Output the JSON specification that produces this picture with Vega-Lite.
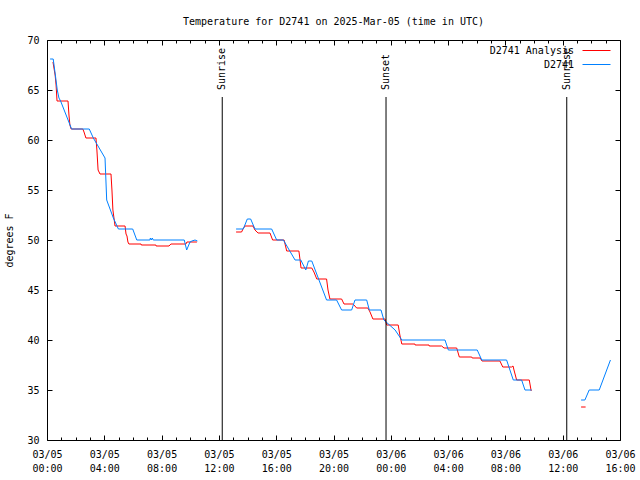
{
  "$schema": "https://vega.github.io/schema/vega-lite/v6.json",
  "width": 573,
  "height": 400,
  "autosize": {"type": "none"},
  "padding": {"left": 47, "top": 40, "right": 20, "bottom": 40},
  "background": "white",
  "title": {
    "text": "Temperature for D2741 on 2025-Mar-05 (time in UTC)",
    "font": "DejaVu Sans Mono", "fontSize": 10, "fontWeight": "normal", "color": "black",
    "anchor": "middle", "offset": 0, "baseline": "alphabetic", "dx": 0
  },
  "config": {
    "view": {"stroke": "black", "strokeWidth": 1},
    "axis": {
      "domain": false, "grid": false, "tickColor": "black", "tickWidth": 1,
      "labelColor": "black", "labelFont": "DejaVu Sans Mono", "labelFontSize": 10,
      "titleFont": "DejaVu Sans Mono", "titleFontSize": 10, "titleFontWeight": "normal", "titleColor": "black"
    }
  },
  "datasets": {
    "temps": [
      {"series": "D2741 Analysis", "seg": 1, "t": "2025-03-05T00:25:00Z", "temp": 67.8},
      {"series": "D2741 Analysis", "seg": 1, "t": "2025-03-05T00:34:00Z", "temp": 66.5},
      {"series": "D2741 Analysis", "seg": 1, "t": "2025-03-05T00:38:00Z", "temp": 65.5},
      {"series": "D2741 Analysis", "seg": 1, "t": "2025-03-05T00:42:00Z", "temp": 63.9},
      {"series": "D2741 Analysis", "seg": 1, "t": "2025-03-05T01:28:00Z", "temp": 63.9},
      {"series": "D2741 Analysis", "seg": 1, "t": "2025-03-05T01:32:00Z", "temp": 62.5},
      {"series": "D2741 Analysis", "seg": 1, "t": "2025-03-05T01:36:00Z", "temp": 61.5},
      {"series": "D2741 Analysis", "seg": 1, "t": "2025-03-05T01:41:00Z", "temp": 61.1},
      {"series": "D2741 Analysis", "seg": 1, "t": "2025-03-05T02:30:00Z", "temp": 61.1},
      {"series": "D2741 Analysis", "seg": 1, "t": "2025-03-05T02:35:00Z", "temp": 60.8},
      {"series": "D2741 Analysis", "seg": 1, "t": "2025-03-05T02:43:00Z", "temp": 60.2},
      {"series": "D2741 Analysis", "seg": 1, "t": "2025-03-05T03:25:00Z", "temp": 60.2},
      {"series": "D2741 Analysis", "seg": 1, "t": "2025-03-05T03:29:00Z", "temp": 59.0},
      {"series": "D2741 Analysis", "seg": 1, "t": "2025-03-05T03:34:00Z", "temp": 57.0},
      {"series": "D2741 Analysis", "seg": 1, "t": "2025-03-05T03:42:00Z", "temp": 56.6},
      {"series": "D2741 Analysis", "seg": 1, "t": "2025-03-05T04:28:00Z", "temp": 56.6},
      {"series": "D2741 Analysis", "seg": 1, "t": "2025-03-05T04:32:00Z", "temp": 55.0},
      {"series": "D2741 Analysis", "seg": 1, "t": "2025-03-05T04:36:00Z", "temp": 53.0},
      {"series": "D2741 Analysis", "seg": 1, "t": "2025-03-05T04:45:00Z", "temp": 51.4},
      {"series": "D2741 Analysis", "seg": 1, "t": "2025-03-05T05:27:00Z", "temp": 51.4},
      {"series": "D2741 Analysis", "seg": 1, "t": "2025-03-05T05:31:00Z", "temp": 50.6},
      {"series": "D2741 Analysis", "seg": 1, "t": "2025-03-05T05:35:00Z", "temp": 50.4},
      {"series": "D2741 Analysis", "seg": 1, "t": "2025-03-05T05:39:00Z", "temp": 49.8},
      {"series": "D2741 Analysis", "seg": 1, "t": "2025-03-05T05:43:00Z", "temp": 49.6},
      {"series": "D2741 Analysis", "seg": 1, "t": "2025-03-05T06:34:00Z", "temp": 49.6},
      {"series": "D2741 Analysis", "seg": 1, "t": "2025-03-05T06:35:00Z", "temp": 49.5},
      {"series": "D2741 Analysis", "seg": 1, "t": "2025-03-05T07:36:00Z", "temp": 49.5},
      {"series": "D2741 Analysis", "seg": 1, "t": "2025-03-05T07:37:00Z", "temp": 49.4},
      {"series": "D2741 Analysis", "seg": 1, "t": "2025-03-05T08:31:00Z", "temp": 49.4},
      {"series": "D2741 Analysis", "seg": 1, "t": "2025-03-05T08:39:00Z", "temp": 49.6},
      {"series": "D2741 Analysis", "seg": 1, "t": "2025-03-05T09:42:00Z", "temp": 49.6},
      {"series": "D2741 Analysis", "seg": 1, "t": "2025-03-05T09:46:00Z", "temp": 49.8},
      {"series": "D2741 Analysis", "seg": 1, "t": "2025-03-05T10:28:00Z", "temp": 49.8},
      {"series": "D2741 Analysis", "seg": 2, "t": "2025-03-05T13:12:00Z", "temp": 50.8},
      {"series": "D2741 Analysis", "seg": 2, "t": "2025-03-05T13:35:00Z", "temp": 50.8},
      {"series": "D2741 Analysis", "seg": 2, "t": "2025-03-05T13:41:00Z", "temp": 51.1},
      {"series": "D2741 Analysis", "seg": 2, "t": "2025-03-05T13:49:00Z", "temp": 51.4},
      {"series": "D2741 Analysis", "seg": 2, "t": "2025-03-05T14:23:00Z", "temp": 51.4},
      {"series": "D2741 Analysis", "seg": 2, "t": "2025-03-05T14:31:00Z", "temp": 51.0},
      {"series": "D2741 Analysis", "seg": 2, "t": "2025-03-05T14:44:00Z", "temp": 50.7},
      {"series": "D2741 Analysis", "seg": 2, "t": "2025-03-05T15:34:00Z", "temp": 50.7},
      {"series": "D2741 Analysis", "seg": 2, "t": "2025-03-05T15:45:00Z", "temp": 50.0},
      {"series": "D2741 Analysis", "seg": 2, "t": "2025-03-05T16:33:00Z", "temp": 50.0},
      {"series": "D2741 Analysis", "seg": 2, "t": "2025-03-05T16:44:00Z", "temp": 48.9},
      {"series": "D2741 Analysis", "seg": 2, "t": "2025-03-05T17:35:00Z", "temp": 48.9},
      {"series": "D2741 Analysis", "seg": 2, "t": "2025-03-05T17:40:00Z", "temp": 48.0},
      {"series": "D2741 Analysis", "seg": 2, "t": "2025-03-05T17:44:00Z", "temp": 47.2},
      {"series": "D2741 Analysis", "seg": 2, "t": "2025-03-05T18:29:00Z", "temp": 47.2},
      {"series": "D2741 Analysis", "seg": 2, "t": "2025-03-05T18:38:00Z", "temp": 46.8},
      {"series": "D2741 Analysis", "seg": 2, "t": "2025-03-05T18:50:00Z", "temp": 46.1},
      {"series": "D2741 Analysis", "seg": 2, "t": "2025-03-05T19:31:00Z", "temp": 46.1},
      {"series": "D2741 Analysis", "seg": 2, "t": "2025-03-05T19:37:00Z", "temp": 45.0},
      {"series": "D2741 Analysis", "seg": 2, "t": "2025-03-05T19:45:00Z", "temp": 44.1},
      {"series": "D2741 Analysis", "seg": 2, "t": "2025-03-05T20:34:00Z", "temp": 44.1},
      {"series": "D2741 Analysis", "seg": 2, "t": "2025-03-05T20:44:00Z", "temp": 43.6},
      {"series": "D2741 Analysis", "seg": 2, "t": "2025-03-05T21:22:00Z", "temp": 43.6},
      {"series": "D2741 Analysis", "seg": 2, "t": "2025-03-05T21:37:00Z", "temp": 43.2},
      {"series": "D2741 Analysis", "seg": 2, "t": "2025-03-05T22:24:00Z", "temp": 43.2},
      {"series": "D2741 Analysis", "seg": 2, "t": "2025-03-05T22:33:00Z", "temp": 42.8},
      {"series": "D2741 Analysis", "seg": 2, "t": "2025-03-05T22:45:00Z", "temp": 42.1},
      {"series": "D2741 Analysis", "seg": 2, "t": "2025-03-05T23:36:00Z", "temp": 42.1},
      {"series": "D2741 Analysis", "seg": 2, "t": "2025-03-05T23:43:00Z", "temp": 41.5},
      {"series": "D2741 Analysis", "seg": 2, "t": "2025-03-06T00:31:00Z", "temp": 41.5},
      {"series": "D2741 Analysis", "seg": 2, "t": "2025-03-06T00:38:00Z", "temp": 40.5},
      {"series": "D2741 Analysis", "seg": 2, "t": "2025-03-06T00:46:00Z", "temp": 39.6},
      {"series": "D2741 Analysis", "seg": 2, "t": "2025-03-06T01:41:00Z", "temp": 39.6},
      {"series": "D2741 Analysis", "seg": 2, "t": "2025-03-06T01:42:00Z", "temp": 39.5},
      {"series": "D2741 Analysis", "seg": 2, "t": "2025-03-06T02:40:00Z", "temp": 39.5},
      {"series": "D2741 Analysis", "seg": 2, "t": "2025-03-06T02:41:00Z", "temp": 39.4},
      {"series": "D2741 Analysis", "seg": 2, "t": "2025-03-06T03:33:00Z", "temp": 39.4},
      {"series": "D2741 Analysis", "seg": 2, "t": "2025-03-06T03:43:00Z", "temp": 39.2},
      {"series": "D2741 Analysis", "seg": 2, "t": "2025-03-06T04:36:00Z", "temp": 39.2},
      {"series": "D2741 Analysis", "seg": 2, "t": "2025-03-06T04:47:00Z", "temp": 38.3},
      {"series": "D2741 Analysis", "seg": 2, "t": "2025-03-06T05:39:00Z", "temp": 38.3},
      {"series": "D2741 Analysis", "seg": 2, "t": "2025-03-06T05:41:00Z", "temp": 38.2},
      {"series": "D2741 Analysis", "seg": 2, "t": "2025-03-06T06:14:00Z", "temp": 38.2},
      {"series": "D2741 Analysis", "seg": 2, "t": "2025-03-06T06:22:00Z", "temp": 37.9},
      {"series": "D2741 Analysis", "seg": 2, "t": "2025-03-06T07:37:00Z", "temp": 37.9},
      {"series": "D2741 Analysis", "seg": 2, "t": "2025-03-06T07:49:00Z", "temp": 37.3},
      {"series": "D2741 Analysis", "seg": 2, "t": "2025-03-06T08:26:00Z", "temp": 37.3},
      {"series": "D2741 Analysis", "seg": 2, "t": "2025-03-06T08:32:00Z", "temp": 37.4},
      {"series": "D2741 Analysis", "seg": 2, "t": "2025-03-06T08:36:00Z", "temp": 37.0},
      {"series": "D2741 Analysis", "seg": 2, "t": "2025-03-06T08:47:00Z", "temp": 36.0},
      {"series": "D2741 Analysis", "seg": 2, "t": "2025-03-06T09:40:00Z", "temp": 36.0},
      {"series": "D2741 Analysis", "seg": 2, "t": "2025-03-06T09:48:00Z", "temp": 34.9},
      {"series": "D2741 Analysis", "seg": 3, "t": "2025-03-06T13:17:00Z", "temp": 33.3},
      {"series": "D2741 Analysis", "seg": 3, "t": "2025-03-06T13:36:00Z", "temp": 33.3},
      {"series": "D2741", "seg": 1, "t": "2025-03-05T00:13:00Z", "temp": 68.1},
      {"series": "D2741", "seg": 1, "t": "2025-03-05T00:26:00Z", "temp": 68.1},
      {"series": "D2741", "seg": 1, "t": "2025-03-05T00:35:00Z", "temp": 66.5},
      {"series": "D2741", "seg": 1, "t": "2025-03-05T00:43:00Z", "temp": 65.0},
      {"series": "D2741", "seg": 1, "t": "2025-03-05T00:50:00Z", "temp": 64.2},
      {"series": "D2741", "seg": 1, "t": "2025-03-05T00:57:00Z", "temp": 63.9},
      {"series": "D2741", "seg": 1, "t": "2025-03-05T01:20:00Z", "temp": 62.5},
      {"series": "D2741", "seg": 1, "t": "2025-03-05T01:43:00Z", "temp": 61.1},
      {"series": "D2741", "seg": 1, "t": "2025-03-05T02:57:00Z", "temp": 61.1},
      {"series": "D2741", "seg": 1, "t": "2025-03-05T03:14:00Z", "temp": 60.2},
      {"series": "D2741", "seg": 1, "t": "2025-03-05T04:03:00Z", "temp": 58.2},
      {"series": "D2741", "seg": 1, "t": "2025-03-05T04:10:00Z", "temp": 54.0},
      {"series": "D2741", "seg": 1, "t": "2025-03-05T04:38:00Z", "temp": 52.2},
      {"series": "D2741", "seg": 1, "t": "2025-03-05T04:59:00Z", "temp": 51.1},
      {"series": "D2741", "seg": 1, "t": "2025-03-05T05:59:00Z", "temp": 51.1},
      {"series": "D2741", "seg": 1, "t": "2025-03-05T06:16:00Z", "temp": 50.0},
      {"series": "D2741", "seg": 1, "t": "2025-03-05T07:11:00Z", "temp": 50.0},
      {"series": "D2741", "seg": 1, "t": "2025-03-05T07:13:00Z", "temp": 50.2},
      {"series": "D2741", "seg": 1, "t": "2025-03-05T07:17:00Z", "temp": 50.0},
      {"series": "D2741", "seg": 1, "t": "2025-03-05T07:21:00Z", "temp": 50.2},
      {"series": "D2741", "seg": 1, "t": "2025-03-05T07:25:00Z", "temp": 50.0},
      {"series": "D2741", "seg": 1, "t": "2025-03-05T09:35:00Z", "temp": 50.0},
      {"series": "D2741", "seg": 1, "t": "2025-03-05T09:45:00Z", "temp": 49.0},
      {"series": "D2741", "seg": 1, "t": "2025-03-05T09:59:00Z", "temp": 49.8},
      {"series": "D2741", "seg": 1, "t": "2025-03-05T10:07:00Z", "temp": 49.9},
      {"series": "D2741", "seg": 1, "t": "2025-03-05T10:20:00Z", "temp": 50.0},
      {"series": "D2741", "seg": 1, "t": "2025-03-05T10:30:00Z", "temp": 49.9},
      {"series": "D2741", "seg": 2, "t": "2025-03-05T13:12:00Z", "temp": 51.1},
      {"series": "D2741", "seg": 2, "t": "2025-03-05T13:42:00Z", "temp": 51.1},
      {"series": "D2741", "seg": 2, "t": "2025-03-05T13:59:00Z", "temp": 52.1},
      {"series": "D2741", "seg": 2, "t": "2025-03-05T14:13:00Z", "temp": 52.1},
      {"series": "D2741", "seg": 2, "t": "2025-03-05T14:31:00Z", "temp": 51.1},
      {"series": "D2741", "seg": 2, "t": "2025-03-05T15:41:00Z", "temp": 51.1},
      {"series": "D2741", "seg": 2, "t": "2025-03-05T16:02:00Z", "temp": 50.0},
      {"series": "D2741", "seg": 2, "t": "2025-03-05T16:30:00Z", "temp": 50.0},
      {"series": "D2741", "seg": 2, "t": "2025-03-05T17:19:00Z", "temp": 48.0},
      {"series": "D2741", "seg": 2, "t": "2025-03-05T17:43:00Z", "temp": 48.0},
      {"series": "D2741", "seg": 2, "t": "2025-03-05T18:04:00Z", "temp": 47.0},
      {"series": "D2741", "seg": 2, "t": "2025-03-05T18:15:00Z", "temp": 47.9},
      {"series": "D2741", "seg": 2, "t": "2025-03-05T18:29:00Z", "temp": 47.9},
      {"series": "D2741", "seg": 2, "t": "2025-03-05T19:31:00Z", "temp": 44.0},
      {"series": "D2741", "seg": 2, "t": "2025-03-05T20:13:00Z", "temp": 44.0},
      {"series": "D2741", "seg": 2, "t": "2025-03-05T20:34:00Z", "temp": 43.0},
      {"series": "D2741", "seg": 2, "t": "2025-03-05T21:16:00Z", "temp": 43.0},
      {"series": "D2741", "seg": 2, "t": "2025-03-05T21:30:00Z", "temp": 44.0},
      {"series": "D2741", "seg": 2, "t": "2025-03-05T22:19:00Z", "temp": 44.0},
      {"series": "D2741", "seg": 2, "t": "2025-03-05T22:30:00Z", "temp": 43.0},
      {"series": "D2741", "seg": 2, "t": "2025-03-05T23:19:00Z", "temp": 43.0},
      {"series": "D2741", "seg": 2, "t": "2025-03-05T23:31:00Z", "temp": 42.0},
      {"series": "D2741", "seg": 2, "t": "2025-03-06T00:18:00Z", "temp": 41.0},
      {"series": "D2741", "seg": 2, "t": "2025-03-06T00:46:00Z", "temp": 40.0},
      {"series": "D2741", "seg": 2, "t": "2025-03-06T03:47:00Z", "temp": 40.0},
      {"series": "D2741", "seg": 2, "t": "2025-03-06T04:01:00Z", "temp": 39.0},
      {"series": "D2741", "seg": 2, "t": "2025-03-06T06:02:00Z", "temp": 39.0},
      {"series": "D2741", "seg": 2, "t": "2025-03-06T06:21:00Z", "temp": 38.0},
      {"series": "D2741", "seg": 2, "t": "2025-03-06T08:05:00Z", "temp": 38.0},
      {"series": "D2741", "seg": 2, "t": "2025-03-06T08:33:00Z", "temp": 36.0},
      {"series": "D2741", "seg": 2, "t": "2025-03-06T09:08:00Z", "temp": 36.0},
      {"series": "D2741", "seg": 2, "t": "2025-03-06T09:22:00Z", "temp": 35.0},
      {"series": "D2741", "seg": 2, "t": "2025-03-06T09:50:00Z", "temp": 35.0},
      {"series": "D2741", "seg": 3, "t": "2025-03-06T13:17:00Z", "temp": 34.0},
      {"series": "D2741", "seg": 3, "t": "2025-03-06T13:33:00Z", "temp": 34.0},
      {"series": "D2741", "seg": 3, "t": "2025-03-06T13:51:00Z", "temp": 35.0},
      {"series": "D2741", "seg": 3, "t": "2025-03-06T14:33:00Z", "temp": 35.0},
      {"series": "D2741", "seg": 3, "t": "2025-03-06T15:20:00Z", "temp": 38.0}
    ],
    "sun": [
      {"event": "Sunrise", "t": "2025-03-05T12:14:00Z"},
      {"event": "Sunset", "t": "2025-03-05T23:40:00Z"},
      {"event": "Sunrise", "t": "2025-03-06T12:17:00Z"}
    ]
  },
  "layer": [
    {
      "data": {"name": "temps"},
      "mark": {"type": "line", "strokeWidth": 1, "interpolate": "linear"},
      "encoding": {
        "x": {
          "field": "t", "type": "temporal",
          "scale": {"type": "utc", "nice": false, "domain": [1741132800000, 1741276800000]},
          "axis": {
            "orient": "bottom", "title": null,
            "values": [1741132800000, 1741136400000, 1741140000000, 1741143600000, 1741147200000, 1741150800000, 1741154400000, 1741158000000, 1741161600000, 1741165200000, 1741168800000, 1741172400000, 1741176000000, 1741179600000, 1741183200000, 1741186800000, 1741190400000, 1741194000000, 1741197600000, 1741201200000, 1741204800000, 1741208400000, 1741212000000, 1741215600000, 1741219200000, 1741222800000, 1741226400000, 1741230000000, 1741233600000, 1741237200000, 1741240800000, 1741244400000, 1741248000000, 1741251600000, 1741255200000, 1741258800000, 1741262400000, 1741266000000, 1741269600000, 1741273200000, 1741276800000],
            "tickSize": -5,
            "tickDash": {"condition": {"test": "utchours(datum.value) % 4 != 0", "value": [3, 20]}, "value": [10, 0]},
            "labelExpr": "utchours(datum.value) % 4 == 0 ? [utcFormat(datum.value, '%m/%d'), utcFormat(datum.value, '%H:%M')] : ''",
            "labelPadding": 14, "labelLineHeight": 14, "labelBaseline": "top",
            "labelOverlap": false, "labelFlush": false
          }
        },
        "y": {
          "field": "temp", "type": "quantitative",
          "scale": {"domain": [30, 70], "nice": false, "zero": false},
          "axis": {
            "orient": "left", "title": "degrees F", "values": [30, 35, 40, 45, 50, 55, 60, 65, 70],
            "tickSize": -5, "labelPadding": 13, "titlePadding": 12
          }
        },
        "color": {
          "field": "series", "type": "nominal",
          "scale": {"domain": ["D2741 Analysis", "D2741"], "range": ["#ff0000", "#0080ff"]},
          "legend": {
            "orient": "none", "legendX": 544, "legendY": 5, "title": null, "padding": 0,
            "symbolType": "M-2.8,0H2.8", "symbolSize": 100, "symbolStrokeWidth": 1, "symbolFillColor": "transparent",
            "labelFont": "DejaVu Sans Mono", "labelFontSize": 10, "labelColor": "black",
            "labelAlign": "right", "labelOffset": -28, "rowPadding": 3
          }
        },
        "detail": {"field": "seg"}
      }
    },
    {
      "data": {"name": "sun"},
      "mark": {"type": "rule", "color": "black", "strokeWidth": 1},
      "encoding": {
        "x": {
          "field": "t", "type": "temporal",
          "scale": {"type": "utc", "nice": false, "domain": [1741132800000, 1741276800000]},
          "axis": {
            "orient": "top", "title": null, "labels": false,
            "values": [1741132800000, 1741136400000, 1741140000000, 1741143600000, 1741147200000, 1741150800000, 1741154400000, 1741158000000, 1741161600000, 1741165200000, 1741168800000, 1741172400000, 1741176000000, 1741179600000, 1741183200000, 1741186800000, 1741190400000, 1741194000000, 1741197600000, 1741201200000, 1741204800000, 1741208400000, 1741212000000, 1741215600000, 1741219200000, 1741222800000, 1741226400000, 1741230000000, 1741233600000, 1741237200000, 1741240800000, 1741244400000, 1741248000000, 1741251600000, 1741255200000, 1741258800000, 1741262400000, 1741266000000, 1741269600000, 1741273200000, 1741276800000],
            "tickSize": -5,
            "tickDash": {"condition": {"test": "utchours(datum.value) % 4 != 0", "value": [3, 20]}, "value": [10, 0]}
          }
        },
        "y": {
          "datum": 30, "type": "quantitative",
          "scale": {"domain": [30, 70], "nice": false, "zero": false},
          "axis": {"orient": "right", "title": null, "labels": false, "values": [30, 35, 40, 45, 50, 55, 60, 65, 70], "tickSize": -5}
        },
        "y2": {"datum": 64.3}
      }
    },
    {
      "data": {"name": "sun"},
      "mark": {"type": "text", "angle": 270, "align": "left", "baseline": "middle", "font": "DejaVu Sans Mono", "fontSize": 10, "color": "black"},
      "encoding": {
        "x": {"field": "t", "type": "temporal", "axis": null},
        "y": {"datum": 65, "type": "quantitative", "axis": null},
        "text": {"field": "event"}
      }
    }
  ],
  "resolve": {"axis": {"x": "independent", "y": "independent"}}
}
